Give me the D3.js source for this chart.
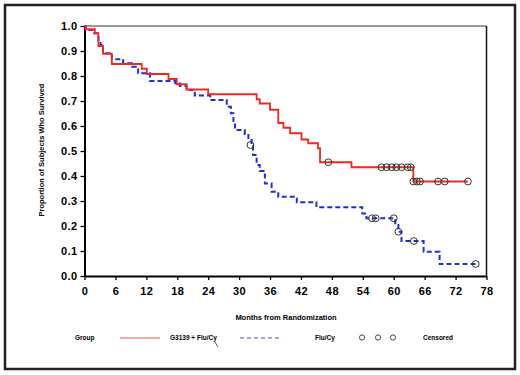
<!DOCTYPE html>
<html>
<head>
<meta charset="utf-8">
<script src="https://cdn.jsdelivr.net/npm/d3@7"></script>
<style>
  body { margin: 0; background: #fff; }
  svg { display: block; font-family: "Liberation Sans", Arial, sans-serif; }
</style>
</head>
<body>
<svg id="chart"></svg>
<script>
// step times (months) and survival after each step
const redTimes = [0, 0.2, 2.0, 2.7, 3.6, 5.3, 11.1, 12.1, 16.3, 17.9, 19.8, 24.0, 33.4, 34.0, 36.0, 37.6, 38.6, 39.9, 42.1, 43.4, 45.3, 45.7, 51.8, 63.8];
const redSurv  = [1.0, 0.987, 0.971, 0.92, 0.889, 0.848, 0.829, 0.808, 0.788, 0.767, 0.746, 0.727, 0.707, 0.69, 0.665, 0.612, 0.593, 0.571, 0.546, 0.531, 0.511, 0.455, 0.435, 0.378];
const redEnd = 74.4;
const redCensT = [47.3, 57.6, 58.6, 59.6, 60.5, 61.5, 62.7, 63.3, 63.8, 64.5, 65.1, 68.6, 69.9, 74.4];
const redCensS = [0.455, 0.435, 0.435, 0.435, 0.435, 0.435, 0.435, 0.435, 0.378, 0.378, 0.378, 0.378, 0.378, 0.378];

const blueTimes = [0, 0.2, 1.6, 2.7, 3.1, 3.6, 5.3, 7.5, 9.2, 10.4, 12.7, 17.6, 18.5, 19.8, 21.4, 24.4, 27.6, 28.4, 28.9, 29.2, 31.1, 31.8, 32.4, 32.7, 33.4, 34.0, 35.0, 36.3, 37.6, 41.2, 45.0, 53.9, 54.7, 60.3, 60.9, 61.5, 65.8, 68.9];
const blueSurv  = [1.0, 0.984, 0.971, 0.944, 0.924, 0.891, 0.867, 0.851, 0.837, 0.811, 0.78, 0.771, 0.76, 0.744, 0.722, 0.704, 0.677, 0.651, 0.611, 0.584, 0.568, 0.544, 0.52, 0.484, 0.444, 0.42, 0.37, 0.337, 0.317, 0.295, 0.275, 0.25, 0.231, 0.204, 0.177, 0.14, 0.097, 0.048];
const blueEnd = 75.9;
const blueCensT = [32.2, 55.8, 56.5, 60.0, 60.9, 63.9, 75.9];
const blueCensS = [0.524, 0.231, 0.231, 0.231, 0.177, 0.14, 0.048];

const xTicks = d3.range(0, 79, 6);
const yTicks = d3.range(0, 11).map(i => i / 10);
const groupNames = ["G3139 + Flu/Cy", "Flu/Cy"];

const W = 520, H = 375;
const svg = d3.select("#chart").attr("width", W).attr("height", H);

const x = d3.scaleLinear().domain([0, 78]).range([84.5, 486.5]);
const y = d3.scaleLinear().domain([0, 1]).range([276, 26]);

// outer frame
svg.append("rect")
    .attr("x", 5).attr("y", 5).attr("width", 510).attr("height", 364)
    .attr("fill", "none").attr("stroke", "#222").attr("stroke-width", 2.5);

// plot frame (top + right)
svg.append("line").attr("x1", x(0)).attr("x2", x(78)).attr("y1", y(1)).attr("y2", y(1))
    .attr("stroke", "#777").attr("stroke-width", 1.3);
svg.append("line").attr("x1", x(78)).attr("x2", x(78)).attr("y1", y(1)).attr("y2", y(0))
    .attr("stroke", "#111").attr("stroke-width", 1.5);

const xAxis = svg.append("g")
    .attr("transform", `translate(0,${y(0)})`)
    .call(d3.axisBottom(x).tickValues(xTicks).tickSize(4).tickSizeOuter(0).tickPadding(7));
const yAxis = svg.append("g")
    .attr("transform", `translate(${x(0)},0)`)
    .call(d3.axisLeft(y).tickValues(yTicks).tickFormat(d3.format(".1f")).tickSize(4).tickSizeOuter(0).tickPadding(3));

[xAxis, yAxis].forEach(g => {
    g.select(".domain").attr("stroke", "#000").attr("stroke-width", 2);
    g.selectAll(".tick line").attr("stroke", "#000").attr("stroke-width", 1.3);
    g.selectAll(".tick text")
        .attr("fill", "#000")
        .style("font-size", "11px")
        .style("font-weight", "bold")
        .style("letter-spacing", "0.4px");
});

function stepPoints(times, surv, end) {
    const pts = [];
    times.forEach((t, i) => {
        if (i > 0) pts.push([t, surv[i - 1]]);
        pts.push([t, surv[i]]);
    });
    pts.push([end, surv[surv.length - 1]]);
    return pts;
}

const line = d3.line().x(d => x(d[0])).y(d => y(d[1]));

svg.append("path")
    .datum(stepPoints(blueTimes, blueSurv, blueEnd))
    .attr("d", line)
    .attr("fill", "none")
    .attr("stroke", "#1f2fd6")
    .attr("stroke-width", 2)
    .attr("stroke-dasharray", "5,3");

svg.append("path")
    .datum(stepPoints(redTimes, redSurv, redEnd))
    .attr("d", line)
    .attr("fill", "none")
    .attr("stroke", "#ee2a1e")
    .attr("stroke-width", 1.8);

function censored(ts, ss) {
    svg.append("g").selectAll("circle")
        .data(ts.map((t, i) => [t, ss[i]]))
        .enter().append("circle")
        .attr("cx", d => x(d[0]))
        .attr("cy", d => y(d[1]))
        .attr("r", 3.4)
        .attr("fill", "none")
        .attr("stroke", "#333")
        .attr("stroke-width", 1);
}
censored(redCensT, redCensS);
censored(blueCensT, blueCensS);

// axis titles
svg.append("text")
    .attr("x", 286).attr("y", 320)
    .attr("text-anchor", "middle")
    .style("font-size", "7.5px").style("font-weight", "bold")
    .text("Months from Randomization");

svg.append("text")
    .attr("transform", `translate(44,150) rotate(-90)`)
    .attr("text-anchor", "middle")
    .style("font-size", "7.5px").style("font-weight", "bold")
    .text("Proportion of Subjects Who Survived");

// legend
const ly = 338;
const legend = svg.append("g").style("font-size", "6.5px").style("font-weight", "bold");
legend.append("text").attr("x", 75).attr("y", ly + 2).text("Group");
legend.append("line").attr("x1", 120).attr("x2", 160).attr("y1", ly).attr("y2", ly)
    .attr("stroke", "#e05a50").attr("stroke-width", 1.2);
legend.append("text").attr("x", 170).attr("y", ly + 2).text(groupNames[0]);
legend.append("line").attr("x1", 215).attr("x2", 218).attr("y1", ly + 4).attr("y2", ly + 9)
    .attr("stroke", "#333").attr("stroke-width", 0.8);
legend.append("line").attr("x1", 240).attr("x2", 280).attr("y1", ly).attr("y2", ly)
    .attr("stroke", "#4a55d0").attr("stroke-width", 1.2).attr("stroke-dasharray", "4,3");
legend.append("text").attr("x", 315).attr("y", ly + 2).text(groupNames[1]);
legend.selectAll("circle").data([362, 378, 393]).enter().append("circle")
    .attr("cx", d => d).attr("cy", ly - 0.5).attr("r", 2.6)
    .attr("fill", "none").attr("stroke", "#333").attr("stroke-width", 0.9);
legend.append("text").attr("x", 423).attr("y", ly + 2).text("Censored");
</script>
</body>
</html>
